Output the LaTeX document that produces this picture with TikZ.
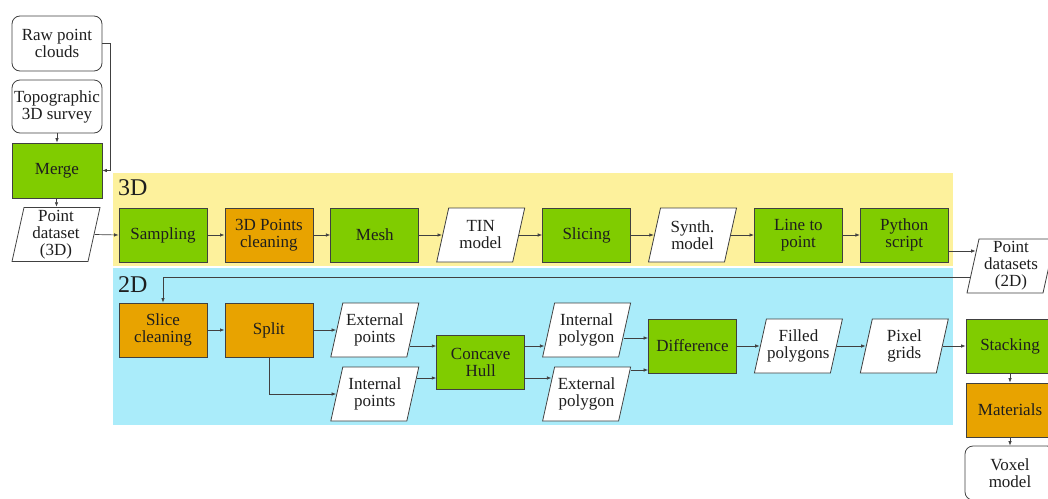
\documentclass[tikz,border=0pt]{standalone}
\usepackage{fontspec}
\setmainfont{LiberationSerif}[Extension=.ttf, UprightFont=*-Regular, BoldFont=*-Bold, ItalicFont=*-Italic, BoldItalicFont=*-BoldItalic]
\usetikzlibrary{arrows.meta,calc}
\definecolor{gboxc}{RGB}{128,204,0}
\definecolor{oboxc}{RGB}{232,163,0}
\definecolor{ybandc}{RGB}{253,241,156}
\definecolor{cbandc}{RGB}{170,236,250}
\definecolor{edgec}{RGB}{64,64,64}
\definecolor{txtc}{RGB}{30,30,30}
\newcommand\boxfont{\rmfamily\fontsize{17}{17}\selectfont}
\tikzset{
  box/.style={draw=edgec, line width=0.8pt, minimum width=88pt, minimum height=54pt,
    inner sep=1pt, align=center, font=\boxfont, text=txtc},
  gbox/.style={box, fill=gboxc},
  obox/.style={box, fill=oboxc},
  rbox/.style={box, fill=white, rounded corners=8pt, minimum width=90pt},
  para/.style={minimum width=89pt, minimum height=55pt, inner sep=0pt, align=center,
    font=\boxfont, text=txtc,
    path picture={\filldraw[fill=white, draw=edgec, line width=0.8pt]
      ([xshift=12.5pt,yshift=-0.5pt]path picture bounding box.north west) --
      ([xshift=-0.5pt,yshift=-0.5pt]path picture bounding box.north east) --
      ([xshift=-12.5pt,yshift=0.5pt]path picture bounding box.south east) --
      ([xshift=0.5pt,yshift=0.5pt]path picture bounding box.south west) -- cycle;}},
  arr/.style={draw=edgec, line width=0.7pt, -{Latex[length=4.5pt,width=3.5pt]}},
  bandlabel/.style={anchor=west, inner sep=0pt, font=\rmfamily\fontsize{24}{24}\selectfont, text=txtc}
}
\begin{document}
\begin{tikzpicture}[x=1pt,y=-1pt]
\useasboundingbox (0,0) rectangle (1048,498);
% bands
\fill[ybandc] (113,173) rectangle (953,266);
\fill[cbandc] (113,268) rectangle (953,425);
\node[bandlabel] (l3d) at (118,188) {3D};
\node[bandlabel] (l2d) at (118,285) {2D};
% left column
\node[rbox, minimum height=55pt] (raw) at (57,43.5) {Raw point\\clouds};
\node[rbox, minimum height=53pt] (topo) at (57,106.5) {Topographic\\3D survey};
\node[gbox, minimum width=90pt, minimum height=55pt] (merge) at (57,170.5) {Merge};
\node[para] (pd3) at (56,234.5) {Point\\dataset\\(3D)};
% row 3D
\node[gbox] (samp) at (163,235) {Sampling};
\node[obox] (clean3d) at (268.9,235) {3D Points\\cleaning};
\node[gbox] (mesh) at (374.8,235) {Mesh};
\node[para] (tin) at (480.7,235) {TIN\\model};
\node[gbox] (slic) at (586.6,235) {Slicing};
\node[para] (synth) at (692.5,235) {Synth.\\model};
\node[gbox] (l2p) at (798.4,235) {Line to\\point};
\node[gbox] (py) at (904.3,235) {Python\\script};
\node[para] (pd2) at (1011,266) {Point\\datasets\\(2D)};
% row 2D
\node[obox] (slc) at (163,330) {Slice\\cleaning};
\node[obox] (split) at (268.9,330) {Split};
\node[para] (extp) at (374.8,330) {External\\points};
\node[para] (intp) at (374.8,394) {Internal\\points};
\node[gbox] (hull) at (480.7,362) {Concave\\Hull};
\node[para] (ipoly) at (586.6,330) {Internal\\polygon};
\node[para] (epoly) at (586.6,394) {External\\polygon};
\node[gbox] (diff) at (692.5,346) {Difference};
\node[para] (filled) at (798.4,346) {Filled\\polygons};
\node[para] (pix) at (904.3,346) {Pixel\\grids};
\node[gbox] (stack) at (1010,346) {Stacking};
\node[obox] (mat) at (1010,410) {Materials};
\node[rbox, minimum height=54pt] (vox) at (1010,473) {Voxel\\model};
% connectors
\draw[arr] (raw.east) -- ++(8,0) |- (merge.east);
\draw[arr] (topo) -- (merge);
\draw[arr] (merge) -- (pd3);
\draw[arr] ([xshift=-6pt]pd3.east) -- (samp.west);
\draw[arr] (samp) -- (clean3d);
\draw[arr] (clean3d) -- (mesh);
\draw[arr] (mesh.east) -- ([xshift=6pt]tin.west);
\draw[arr] ([xshift=-6pt]tin.east) -- (slic.west);
\draw[arr] (slic.east) -- ([xshift=6pt]synth.west);
\draw[arr] ([xshift=-6pt]synth.east) -- (l2p.west);
\draw[arr] (l2p) -- (py);
\draw[arr] ([yshift=-16pt]py.east) -- ([xshift=9.3pt,yshift=15pt]pd2.west);
\draw[arr] ([xshift=3.6pt,yshift=-11pt]pd2.west) -| (slc.north);
\draw[arr] (slc) -- (split);
\draw[arr] (split.east) -- ([xshift=6pt]extp.west);
\draw[arr] (split.south) |- ([xshift=6pt]intp.west);
\draw[arr] ([xshift=-9.5pt,yshift=-16pt]extp.east) -- ([yshift=16pt]hull.west);
\draw[arr] ([xshift=-2.5pt,yshift=16pt]intp.east) -- ([yshift=-16pt]hull.west);
\draw[arr] ([yshift=16pt]hull.east) -- ([xshift=2.5pt,yshift=-16pt]ipoly.west);
\draw[arr] ([yshift=-16pt]hull.east) -- ([xshift=9.5pt,yshift=16pt]epoly.west);
\draw[arr] ([xshift=-7.7pt,yshift=-8pt]ipoly.east) -- ([yshift=8pt]diff.west);
\draw[arr] ([xshift=-0.8pt,yshift=24pt]epoly.east) -- ([yshift=-24pt]diff.west);
\draw[arr] (diff.east) -- ([xshift=6pt]filled.west);
\draw[arr] ([xshift=-6pt]filled.east) -- ([xshift=6pt]pix.west);
\draw[arr] ([xshift=-6pt]pix.east) -- (stack.west);
\draw[arr] (stack) -- (mat);
\draw[arr] (mat) -- (vox);
\end{tikzpicture}
\end{document}
